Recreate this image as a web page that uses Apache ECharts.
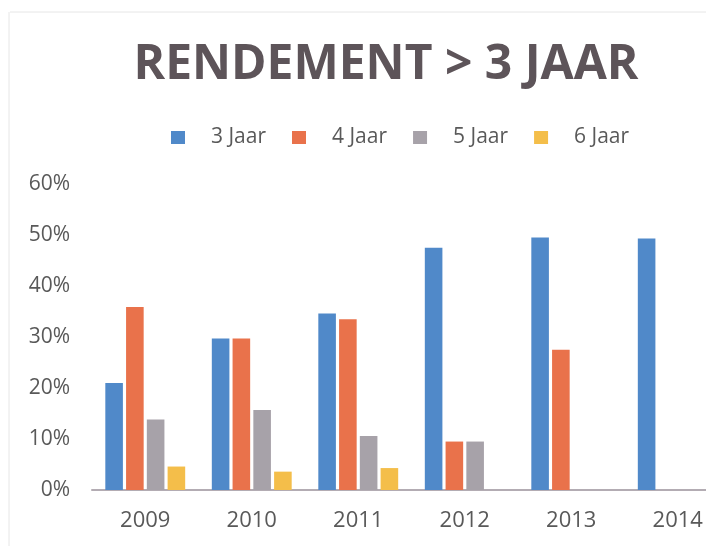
<!DOCTYPE html>
<html>
<head>
<meta charset="utf-8">
<script src="https://cdn.jsdelivr.net/npm/echarts@6/dist/echarts.min.js"></script>
<style>
  html, body { margin: 0; padding: 0; background: #fff; }
  #chart { width: 706px; height: 546px; }
</style>
</head>
<body>
<div id="chart"></div>
<script>
// data
const years = ['2009', '2010', '2011', '2012', '2013', '2014']
const jaar3 = [21, 29.7, 34.6, 47.5, 49.5, 49.3]
const jaar4 = [35.9, 29.7, 33.5, 9.5, 27.5, null]
const jaar5 = [13.8, 15.7, 10.6, 9.5, null, null]
const jaar6 = [4.6, 3.6, 4.3, null, null, null]
const seriesNames = ['3 Jaar', '4 Jaar', '5 Jaar', '6 Jaar']
const colors = ['#5089c9', '#e9724b', '#a7a2a9', '#f4be4a']

const myChart = echarts.init(document.getElementById('chart'))

const makeBar = (name, data, color) => ({
    name: name,
    type: 'bar',
    data: data,
    barGap: '18%',
    barCategoryGap: '25%',
    itemStyle: { color: color }
})

const options = {
    backgroundColor: '#fff',
    title: {
        text: 'RENDEMENT > 3 JAAR',
        left: 381,
        textAlign: 'center',
        top: 36,
        textStyle: {
            fontFamily: 'Open Sans',
            fontWeight: 'bold',
            fontSize: 48,
            color: '#5d5459'
        }
    },
    legend: {
        top: 122,
        left: 166,
        itemWidth: 14,
        itemHeight: 13,
        itemGap: 26,
        icon: 'rect',
        textStyle: {
            fontFamily: 'Open Sans',
            fontSize: 21,
            color: '#595959',
            padding: [0, 0, 0, 21]
        },
        data: seriesNames
    },
    //plot area runs past the right edge, 2014 gets cut off
    grid: {
        left: 92,
        width: 639,
        top: 184,
        bottom: 56,
        containLabel: false,
        outerBoundsMode: 'none'
    },
    xAxis: {
        type: 'category',
        data: years,
        axisLine: { lineStyle: { color: '#b3acb3', width: 2 } },
        axisTick: { show: false },
        axisLabel: {
            margin: 20,
            fontFamily: 'Open Sans',
            fontSize: 22,
            color: '#595959'
        }
    },
    yAxis: {
        type: 'value',
        min: 0,
        max: 60,
        interval: 10,
        splitLine: { show: false },
        axisLine: { show: false },
        axisTick: { show: false },
        axisLabel: {
            margin: 22,
            formatter: '{value}%',
            fontFamily: 'Open Sans',
            fontSize: 21,
            color: '#595959'
        }
    },
    series: [
        makeBar(seriesNames[0], jaar3, colors[0]),
        makeBar(seriesNames[1], jaar4, colors[1]),
        makeBar(seriesNames[2], jaar5, colors[2]),
        makeBar(seriesNames[3], jaar6, colors[3])
    ],
    graphic: [
        {
            type: 'line',
            shape: { x1: 10, y1: 12, x2: 706, y2: 12 },
            style: { stroke: '#e6e6e6', lineWidth: 1 }
        },
        {
            type: 'line',
            shape: { x1: 9, y1: 12, x2: 9, y2: 546 },
            style: { stroke: '#e6e6e6', lineWidth: 1 }
        }
    ]
}
myChart.setOption(options)
</script>
</body>
</html>
